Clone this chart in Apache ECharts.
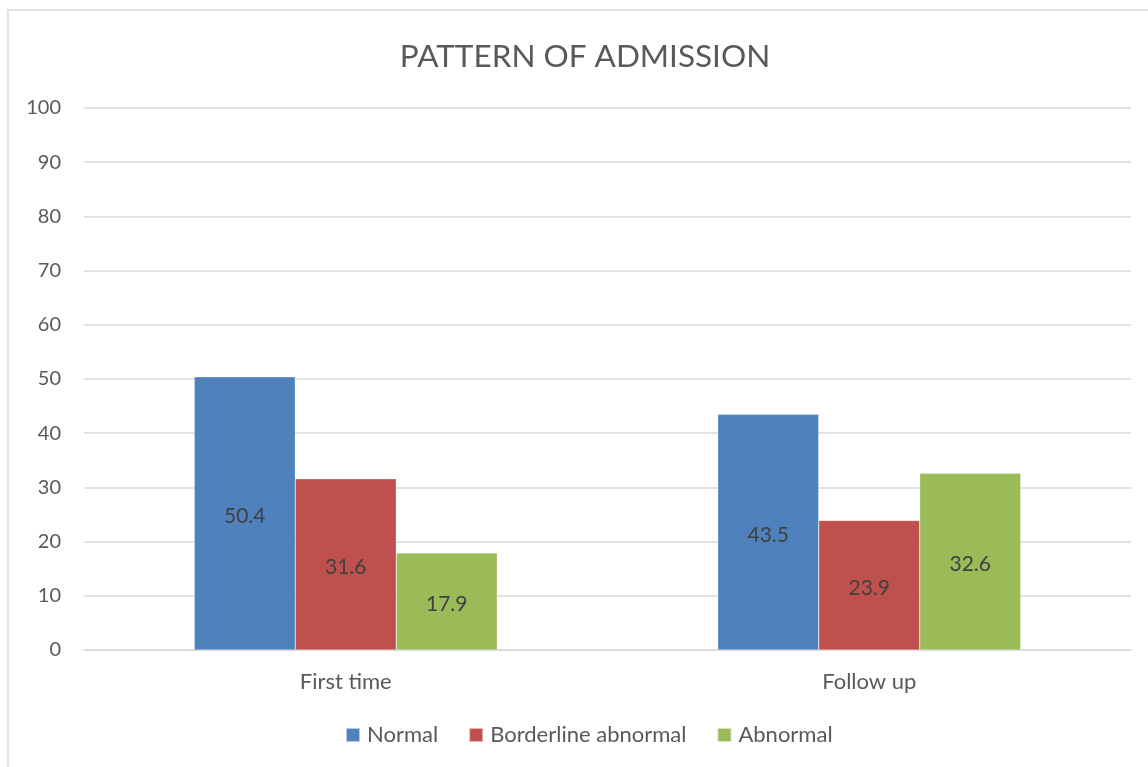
<!DOCTYPE html>
<html>
<head>
<meta charset="utf-8">
<script src="https://cdn.jsdelivr.net/npm/echarts@6/dist/echarts.min.js"></script>
<style>
  html, body { margin: 0; padding: 0; background: #fff; }
  #chart { width: 1148px; height: 767px; }
</style>
</head>
<body>
<div id="chart"></div>
<script>
// Admission pattern data (percent)
const categories = ['First time', 'Follow up'];
const seriesNames = ['Normal', 'Borderline abnormal', 'Abnormal'];
const normal = [50.4, 43.5];
const borderline = [31.6, 23.9];
const abnormal = [17.9, 32.6];
const yTicks = [0, 10, 20, 30, 40, 50, 60, 70, 80, 90, 100];

const colors = ['#4F81BD', '#C0504D', '#9BBB59'];
const FONT = 'Lato, "Open Sans", sans-serif';
const textColor = '#595959';

const chart = echarts.init(document.getElementById('chart'));

function barSeries(name, data, color) {
  return {
    name: name,
    type: 'bar',
    data: data,
    barWidth: 101,
    barGap: '0%',
    itemStyle: { color: color, borderColor: 'rgba(255,255,255,0.6)', borderWidth: 0.5 },
    label: {
      show: true,
      position: 'inside',
      offset: [0, 3],
      color: '#404040',
      fontSize: 21,
      fontFamily: FONT,
      formatter: p => p.value.toFixed(1)
    }
  };
}

chart.setOption({
  animation: false,
  backgroundColor: '#fff',
  graphic: [{
    type: 'rect',
    shape: { x: 8, y: 10, width: 1160, height: 800 },
    style: { fill: 'none', stroke: '#d9d9d9', lineWidth: 1.5 },
    silent: true,
    z: -1
  }],
  title: {
    text: 'PATTERN OF ADMISSION',
    left: 580,
    top: 36,
    textAlign: 'center',
    textStyle: { color: textColor, fontSize: 31.5, fontWeight: 'normal', fontFamily: FONT }
  },
  legend: {
    data: seriesNames,
    bottom: 16,
    left: 340,
    itemWidth: 14,
    itemHeight: 14,
    itemGap: 30,
    icon: 'rect',
    textStyle: { color: textColor, fontSize: 22, fontFamily: FONT, padding: [0, 0, 0, 2] }
  },
  grid: { left: 84, right: 17, top: 108, bottom: 117, containLabel: false },
  xAxis: {
    type: 'category',
    data: categories,
    axisLine: { lineStyle: { color: '#d9d9d9', width: 1.5 } },
    axisTick: { show: false },
    axisLabel: { color: textColor, fontSize: 22, fontFamily: FONT, margin: 21 }
  },
  yAxis: {
    type: 'value',
    min: yTicks[0],
    max: yTicks[yTicks.length - 1],
    interval: yTicks[1] - yTicks[0],
    axisLine: { show: false },
    axisTick: { show: false },
    axisLabel: { color: textColor, fontSize: 20, fontFamily: FONT, margin: 23 },
    splitLine: { lineStyle: { color: '#d9d9d9', width: 1.5 } }
  },
  series: [
    barSeries(seriesNames[0], normal, colors[0]),
    barSeries(seriesNames[1], borderline, colors[1]),
    barSeries(seriesNames[2], abnormal, colors[2])
  ]
});
</script>
</body>
</html>
